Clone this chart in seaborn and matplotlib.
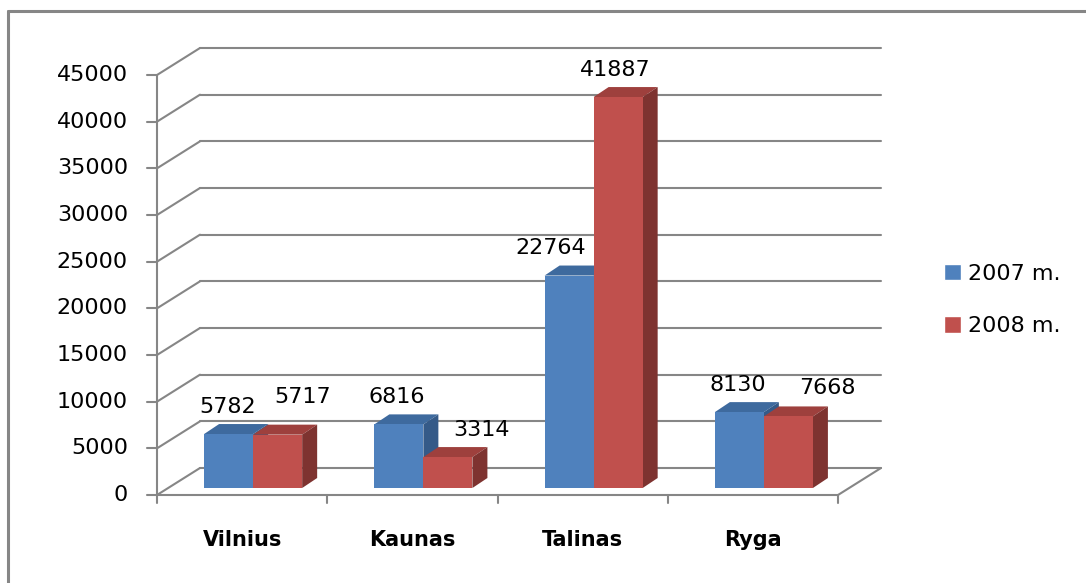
import matplotlib
matplotlib.use("Agg")
import matplotlib.pyplot as plt
from matplotlib.patches import Polygon
from matplotlib.lines import Line2D
import numpy as np
import pandas as pd
import seaborn as sns

# Data
cities = ["Vilnius", "Kaunas", "Talinas", "Ryga"]
years = ["2007 m.", "2008 m."]
values_2007 = [5782, 6816, 22764, 8130]
values_2008 = [5717, 3314, 41887, 7668]
y_ticks = [0, 5000, 10000, 15000, 20000, 25000, 30000, 35000, 40000, 45000]

# label nudges in pixels (dx, dy above bar top), same order as bars drawn
label_shift = [(-1, 27), (-2, 27), (-18, 28), (-2, 27),
               (25, 38), (34, 27), (-3, 27), (39, 28)]

df = pd.DataFrame({
    "city": cities * 2,
    "year": [years[0]] * 4 + [years[1]] * 4,
    "value": values_2007 + values_2008,
})

sns.set_style("white")
plt.rcParams["font.family"] = ["DejaVu Sans"]
plt.rcParams["text.color"] = "black"

W, H = 1086, 583
fig = plt.figure(figsize=(W / 100, H / 100), dpi=100)
# axes = plane where the bars stand
ax = fig.add_axes([168 / W, (H - 488) / H, 681 / W, 420 / H])

blue, red = "#4f81bd", "#c0504d"
tops = {blue: "#3e6a9e", red: "#9e403d"}
sides = {blue: "#355a88", red: "#7e3330"}
grid_c = "#868686"

sns.barplot(data=df, x="city", y="value", hue="year", palette=[blue, red],
            width=0.576, saturation=1, errorbar=None, ax=ax, zorder=3)
ax.set_xlim(-0.5, 3.5)
ax.set_ylim(0, 45000)
ax.set_axis_off()

kx = 4 / 681
ky = 45000 / 420

def px(dx, dy):
    return dx * kx, dy * ky

# plane offsets relative to bar plane
fx, fy = px(-11, -7)    # front plane
bx, by = px(32, 20)     # back wall
dx, dy = px(15, 10)     # bar depth

# back wall gridlines and side wall diagonals
for v in y_ticks:
    ax.plot([-0.5 + bx, 3.5 + bx], [v + by, v + by], color=grid_c, lw=1.5,
            clip_on=False, zorder=1)
    ax.plot([-0.5 + fx, -0.5 + bx], [v + fy, v + by], color=grid_c, lw=1.5,
            clip_on=False, zorder=1)
    ax.plot([-0.5 + fx - 10 * kx, -0.5 + fx], [v + fy, v + fy], color=grid_c,
            lw=1.5, clip_on=False, zorder=1)
    ax.text(-0.5 + fx - 29 * kx, v + fy, str(v), ha="right", va="center",
            fontsize=16, color="black")

# floor
ax.plot([3.5 + fx, 3.5 + bx], [fy, by], color=grid_c, lw=1.5, clip_on=False, zorder=1)
ax.plot([-0.5 + fx, 3.5 + fx], [fy, fy], color=grid_c, lw=1.5, clip_on=False, zorder=30)
ax.plot([-0.5 + fx, -0.5 + fx], [fy, 45000 + fy], color=grid_c, lw=1.5,
        clip_on=False, zorder=30)
for i in range(5):
    ax.plot([i - 0.5 + fx, i - 0.5 + fx], [fy, fy - 8 * ky], color=grid_c, lw=1.5,
            clip_on=False, zorder=30)

for i, c in enumerate(cities):
    ax.text(i + fx, fy - 45 * ky, c, ha="center", va="center", fontsize=15,
            fontweight="bold", color="black")

# 3d faces on the bars
bars = [p for p in ax.patches if p.get_height() > 0]
order = sorted(range(len(bars)), key=lambda j: bars[j].get_x())
for rank, j in enumerate(order):
    b = bars[j]
    x0, w, h = b.get_x(), b.get_width(), b.get_height()
    col = matplotlib.colors.to_hex(b.get_facecolor()).lower()
    z = 3 + 2 * rank
    b.set_zorder(z + 1)
    b.set_edgecolor("none")
    ax.add_patch(Polygon([(x0, h), (x0 + w, h), (x0 + w + dx, h + dy), (x0 + dx, h + dy)],
                         closed=True, facecolor=tops[col], edgecolor="none",
                         zorder=z, clip_on=False))
    ax.add_patch(Polygon([(x0 + w, 0), (x0 + w, h), (x0 + w + dx, h + dy), (x0 + w + dx, dy)],
                         closed=True, facecolor=sides[col], edgecolor="none",
                         zorder=z, clip_on=False))

for j, b in enumerate(bars):
    sx, sy = label_shift[j]
    ax.text(b.get_x() + b.get_width() / 2 + sx * kx, b.get_height() + sy * ky,
            f"{int(round(b.get_height()))}", ha="center", va="center",
            fontsize=16, color="black", zorder=40)

sns.move_legend(ax, loc="upper left", bbox_to_anchor=(944 / W, 1 - 264 / H),
                bbox_transform=fig.transFigure, frameon=False, title=None,
                fontsize=16, handlelength=0.75, handleheight=0.75,
                handletextpad=0.35, labelspacing=1.45, borderpad=0,
                borderaxespad=0, labelcolor="black")

# outer frame (top and left only visible)
fig.add_artist(Line2D([8 / W, 1], [1 - 11 / H, 1 - 11 / H], color=grid_c, lw=2.2))
fig.add_artist(Line2D([8 / W, 8 / W], [0, 1 - 11 / H], color=grid_c, lw=2.2))

fig.savefig("out.png", dpi=100, facecolor="white")
